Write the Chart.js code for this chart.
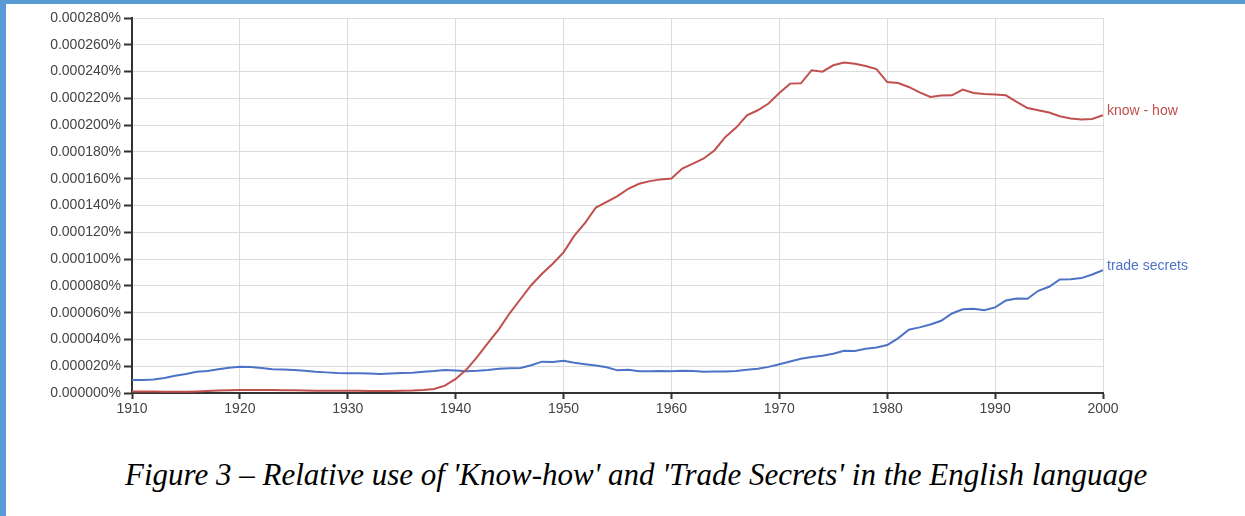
<!DOCTYPE html>
<html>
<head>
<meta charset="utf-8">
<script src="https://cdn.jsdelivr.net/npm/chart.js@4.4.1/dist/chart.umd.min.js"></script>
<style>
    body { margin: 0; background: #fff; }
    #page { position: relative; width: 1245px; height: 516px; overflow: hidden; }
    #bar-left { position: absolute; left: 0; top: 0; width: 6px; height: 516px; background: #5b9bd5; }
    #bar-top { position: absolute; left: 0; top: 0; width: 1245px; height: 4px; background: #5b9bd5; }
    #chart-box { position: absolute; left: 0; top: 0; width: 1245px; height: 420px; }
    #caption {
        position: absolute; left: 125px; top: 459px; white-space: nowrap;
        font-family: "Liberation Serif", "Times New Roman", serif; font-style: italic;
        font-size: 31px; line-height: 1; color: #000;
    }
</style>
</head>
<body>
<div id="page">
    <div id="chart-box"><canvas id="ngram-chart"></canvas></div>
    <div id="bar-left"></div>
    <div id="bar-top"></div>
    <div id="caption">Figure 3 – Relative use of 'Know-how' and 'Trade Secrets' in the English language</div>
</div>
<script>
/**
 * Data (values in percent)
 */
const years = [];
for (let y = 1910; y <= 2000; y++) years.push(y);

// millionths of a percent
const knowHow = [
    1.2, 1.2, 1.1, 1.0, 1.0, 1.0, 1.2, 1.5, 1.8, 2.0,
    2.3, 2.3, 2.3, 2.2, 2.0, 2.0, 1.8, 1.6, 1.6, 1.6,
    1.6, 1.6, 1.5, 1.5, 1.5, 1.6, 1.8, 2.2, 3.0, 5.5,
    10.5, 17.5, 27.0, 37.5, 47.5, 59.5, 70.0, 80.5, 89.0, 96.5,
    105.0, 117.5, 127.0, 138.5, 142.7, 147.0, 152.5, 156.2, 158.2, 159.5,
    160.2, 167.6, 171.3, 175.1, 181.3, 191.2, 198.2, 207.4, 211.1, 216.1,
    224.0, 231.0, 231.2, 241.0, 239.9, 244.7, 246.7, 245.9, 244.2, 241.8,
    232.2, 231.5, 228.5, 224.5, 221.0, 222.1, 222.3, 226.6, 224.0, 223.3,
    222.8, 222.3, 217.3, 212.8, 211.1, 209.4, 206.6, 204.9, 204.2, 204.6,
    207.4
];
const tradeSecrets = [
    9.7, 9.7, 10.0, 11.2, 12.8, 14.2, 15.8, 16.4, 17.7, 18.9,
    19.6, 19.4, 18.6, 17.7, 17.6, 17.2, 16.6, 15.9, 15.4, 15.0,
    14.8, 14.7, 14.5, 14.2, 14.6, 15.0, 15.2, 15.9, 16.4, 17.1,
    16.8, 16.3, 16.6, 17.1, 18.1, 18.4, 18.6, 20.7, 23.4, 23.2,
    24.1, 22.6, 21.5, 20.5, 19.2, 16.9, 17.4, 16.2, 16.3, 16.4,
    16.2, 16.6, 16.4, 15.9, 16.0, 16.0, 16.5, 17.3, 18.1, 19.5,
    21.5, 23.5, 25.5, 26.8, 27.8, 29.3, 31.6, 31.4, 33.0, 34.0,
    35.8, 40.8, 47.3, 49.0, 51.2, 53.9, 59.4, 62.5, 62.9, 61.8,
    63.9, 69.1, 70.6, 70.4, 76.3, 79.3, 84.8, 85.0, 85.8, 88.5,
    91.8
];
const seriesNames = ["know - how", "trade secrets"];
const seriesColors = ["#c0504d", "#4d72c6"];

const yMax = 0.00028;
const yStep = 0.00002;
const xTicks = [1910, 1920, 1930, 1940, 1950, 1960, 1970, 1980, 1990, 2000];

function toPoints(values) {
    return values.map((v, i) => ({ x: years[i], y: v / 1e6 }));
}

/**
 * End labels
 */
const endLabels = {
    id: 'endLabels',
    afterDatasetsDraw(chart) {
        const ctx = chart.ctx;
        ctx.save();
        ctx.font = '14px "Liberation Sans", Arial, sans-serif';
        ctx.textBaseline = 'middle';
        ctx.textAlign = 'left';
        chart.data.datasets.forEach((ds, i) => {
            const meta = chart.getDatasetMeta(i);
            const last = meta.data[meta.data.length - 1];
            ctx.fillStyle = ds.borderColor;
            ctx.fillText(ds.label, last.x + 4, last.y - 4);
        });
        ctx.restore();
    }
};

/**
 * Chart
 */
const tickFont = { family: '"Liberation Sans", Arial, sans-serif', size: 14 };

const ngramChart = new Chart(document.getElementById('ngram-chart'), {
    type: 'line',
    data: {
        datasets: [
            { label: seriesNames[0], data: toPoints(knowHow), borderColor: seriesColors[0] },
            { label: seriesNames[1], data: toPoints(tradeSecrets), borderColor: seriesColors[1] }
        ]
    },
    options: {
        animation: false,
        responsive: true,
        maintainAspectRatio: false,
        parsing: false,
        layout: { padding: { left: 0, top: 18, right: 142, bottom: 0 } },
        datasets: {
            line: { borderWidth: 2, pointRadius: 0, tension: 0, fill: false }
        },
        scales: {
            x: {
                type: 'linear',
                min: 1910,
                max: 2000,
                afterBuildTicks: (scale) => { scale.ticks = xTicks.map(v => ({ value: v })); },
                afterFit: (scale) => { scale.height = 27; },
                ticks: {
                    color: '#444',
                    font: tickFont,
                    padding: 2,
                    maxRotation: 0,
                    callback: (v) => String(v)
                },
                grid: { color: '#dcdcdc', lineWidth: 1, tickLength: 6, tickColor: '#333', tickWidth: 2 },
                border: { color: '#333', width: 2 }
            },
            y: {
                min: 0,
                max: yMax,
                afterFit: (scale) => { scale.width = 132; },
                ticks: {
                    stepSize: yStep,
                    color: '#444',
                    font: tickFont,
                    padding: 3,
                    callback: (v) => v.toFixed(6) + '%'
                },
                grid: { color: '#dcdcdc', lineWidth: 1, tickLength: 8, tickColor: '#333', tickWidth: 2 },
                border: { color: '#333', width: 2 }
            }
        },
        plugins: {
            legend: { display: false },
            tooltip: { enabled: false }
        }
    },
    plugins: [endLabels]
});
</script>
</body>
</html>
